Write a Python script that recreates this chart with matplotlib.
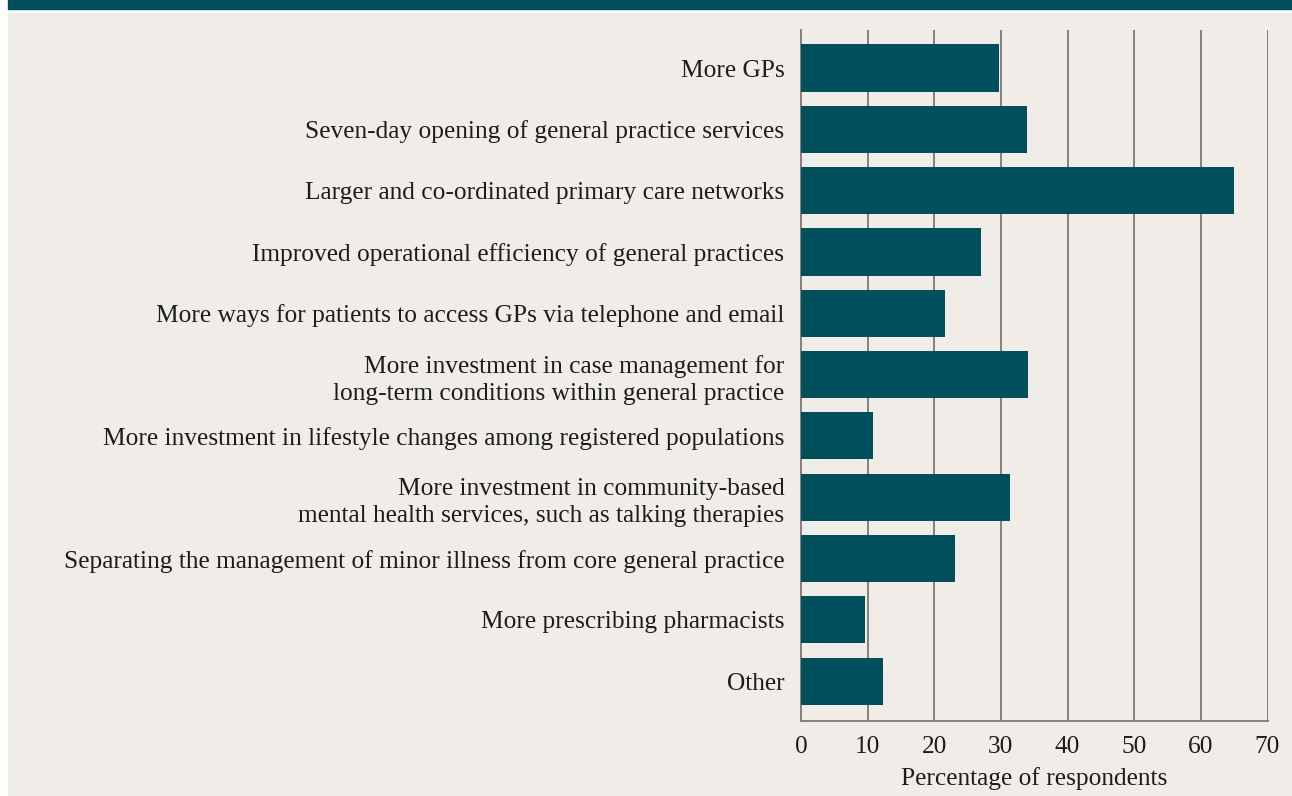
import matplotlib.pyplot as plt
from matplotlib.patches import Rectangle

# survey responses, top to bottom
labels = [
    "More GPs",
    "Seven-day opening of general practice services",
    "Larger and co-ordinated primary care networks",
    "Improved operational efficiency of general practices",
    "More ways for patients to access GPs via telephone and email",
    "More investment in case management for\nlong-term conditions within general practice",
    "More investment in lifestyle changes among registered populations",
    "More investment in community-based\nmental health services, such as talking therapies",
    "Separating the management of minor illness from core general practice",
    "More prescribing pharmacists",
    "Other",
]
values = [29.7, 33.9, 65.0, 27.0, 21.6, 34.0, 10.8, 31.3, 23.1, 9.6, 12.3]
xticks = [0, 10, 20, 30, 40, 50, 60, 70]

teal = "#004f5c"
beige = "#f0ede8"
grid = "#85807b"
ink = "#1c1c1c"

plt.rcParams['font.family'] = ['Liberation Serif', 'DejaVu Serif']

fig = plt.figure(figsize=(12.92, 7.96), dpi=100, facecolor="white")
W, H = 1292, 796
# header band and panel background
fig.patches.append(Rectangle((8 / W, 1 - 9 / H), 1, 9 / H, transform=fig.transFigure,
                             color=teal, zorder=-2))
fig.patches.append(Rectangle((8 / W, 0), 1, 1 - 13 / H, transform=fig.transFigure,
                             color=beige, zorder=-2))

ax = fig.add_axes([801 / W, 1 - 721 / H, 466.5 / W, (721 - 30) / H])
ax.set_facecolor("none")
ax.set_zorder(2)

y = list(range(len(labels)))
ax.barh(y, values, height=0.77, color=teal, zorder=3)

ax.set_xlim(0, 70)
ax.set_ylim(10.65, -0.62)
ax.set_xticks(xticks)
ax.set_xticklabels([str(t) for t in xticks])
ax.set_yticks(y)
ax.set_yticklabels(labels, ha="right", linespacing=1.32)

for t in xticks[1:]:
    ax.axvline(t, color=grid, lw=1.4, zorder=1)

for side in ["top", "right"]:
    ax.spines[side].set_visible(False)
for side in ["left", "bottom"]:
    ax.spines[side].set_color(grid)
    ax.spines[side].set_linewidth(1.4)

ax.tick_params(axis="y", length=0, pad=12, labelsize=18.3, labelcolor=ink)
ax.tick_params(axis="x", length=0, pad=11, labelsize=18.3, labelcolor=ink)
ax.set_xlabel("Percentage of respondents", fontsize=18.3, color=ink, labelpad=6)

fig.savefig("out.png", dpi=100, facecolor=fig.get_facecolor())
